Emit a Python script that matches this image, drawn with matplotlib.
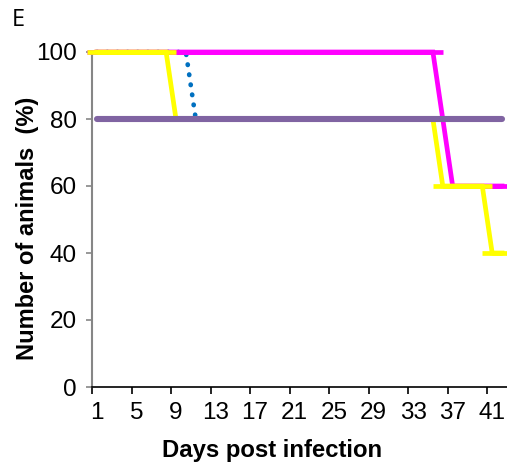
import matplotlib
matplotlib.use("Agg")
import matplotlib.pyplot as plt

# survival curves, days 1..42
days = list(range(1, 43))

# values (% animals)
blue = [100] * 10 + [80] * 32
magenta = [100] * 35 + [80] + [60] * 6
yellow = [100] * 8 + [80] * 27 + [60] * 5 + [40] * 2
purple = [80] * 42

tick_days = [1, 5, 9, 13, 17, 21, 25, 29, 33, 37, 41]
y_ticks = [0, 20, 40, 60, 80, 100]

plt.rcParams['font.family'] = ['Liberation Sans', 'DejaVu Sans']

fig = plt.figure(figsize=(5.07, 4.63), dpi=100)
ax = fig.add_axes([92 / 507, 76 / 463, 415 / 507, 335 / 463])

ax.plot(days, blue, color='#0070C0', lw=3.4, ls=(0, (0.1, 2.05)),
        dash_capstyle='round', clip_on=False, zorder=2)
ax.plot(days, magenta, color='#FF00FF', lw=3.4, marker='_', ms=14.5, mew=3.4,
        solid_joinstyle='miter', clip_on=False, zorder=3)
ax.plot(days, yellow, color='#FFFF00', lw=3.4, marker='_', ms=14.5, mew=3.4,
        solid_joinstyle='miter', clip_on=False, zorder=4)
ax.plot(days, purple, color='#8064A2', lw=4.4, solid_capstyle='round',
        clip_on=False, zorder=5)

ax.set_xlim(0.5, 42.5)
ax.set_ylim(0, 100)

# ticks between categories, labels on category centres
ax.set_xticks([d - 0.5 for d in tick_days])
ax.set_xticklabels([])
ax.set_xticks(tick_days, minor=True)
ax.set_xticklabels([str(d) for d in tick_days], minor=True)
ax.tick_params(axis='x', which='major', direction='out', length=5, width=1.2, color='black')
ax.tick_params(axis='x', which='minor', length=0, pad=11, labelsize=17.5)

ax.set_yticks(y_ticks)
ax.tick_params(axis='y', direction='out', length=4, width=1.2, color='#868686',
               pad=7, labelsize=17.5)

for s in ['top', 'right']:
    ax.spines[s].set_visible(False)
ax.spines['left'].set_color('#868686')
ax.spines['left'].set_linewidth(1.5)
ax.spines['bottom'].set_color('black')
ax.spines['bottom'].set_linewidth(1.2)

fig.text(272 / 507, 1 - 450 / 463, 'Days post infection', ha='center', va='center',
         fontsize=17.2, fontweight='bold')
fig.text(28 / 507, 1 - 228 / 463, 'Number of animals  (%)', ha='center', va='center',
         rotation=90, fontsize=17, fontweight='bold')
fig.text(12 / 507, 1 - 8 / 463, 'E', ha='left', va='top', fontsize=17,
         family='Open Sans')

fig.savefig('out.png', dpi=100)
